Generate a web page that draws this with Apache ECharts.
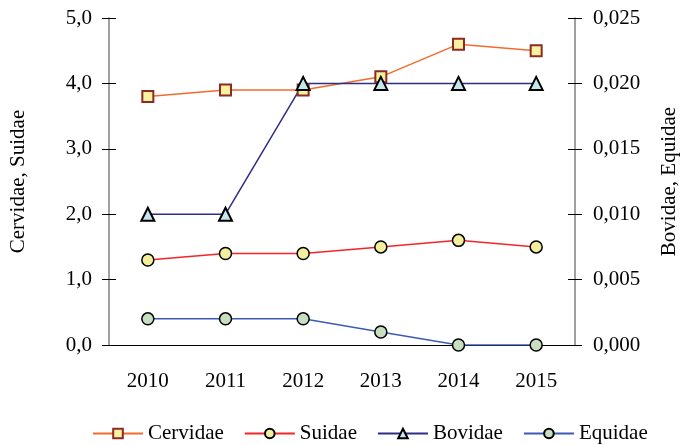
<!DOCTYPE html>
<html>
<head>
<meta charset="utf-8">
<script src="https://cdn.jsdelivr.net/npm/echarts@6/dist/echarts.min.js"></script>
<style>
  html, body { margin: 0; padding: 0; background: #fff; }
  #main { width: 690px; height: 445px; }
</style>
</head>
<body>
<div id="main"></div>
<script>
// data
const years = ['2010', '2011', '2012', '2013', '2014', '2015']
const cervidae = [3.8, 3.9, 3.9, 4.1, 4.6, 4.5]
const suidae = [1.3, 1.4, 1.4, 1.5, 1.6, 1.5]
const bovidae = [0.010, 0.010, 0.020, 0.020, 0.020, 0.020]
const equidae = [0.002, 0.002, 0.002, 0.001, 0.000, 0.000]

const font = 'Liberation Serif'
const fs = 21
const comma = (v, d) => v.toFixed(d).replace('.', ',')

const chart = echarts.init(document.getElementById('main'))

// extra axes only draw the inner half of the crossing ticks
const innerTicks = (pos, min, max, interval) => ({
  type: 'value', position: pos, min, max, interval,
  splitLine: { show: false },
  axisLine: { show: false },
  axisLabel: { show: false },
  axisTick: { show: true, inside: true, length: 7, lineStyle: { color: '#000' } }
})

chart.setOption({
  animation: false,
  grid: { left: 107, right: 115, top: 18, bottom: 100 },
  textStyle: { fontFamily: font },
  xAxis: {
    type: 'category',
    data: years,
    boundaryGap: true,
    axisLine: { lineStyle: { color: '#000', width: 1 } },
    axisTick: { length: 8, lineStyle: { color: '#000' } },
    axisLabel: { color: '#000', fontSize: fs, fontFamily: font, margin: 26 }
  },
  yAxis: [
    {
      type: 'value', position: 'left', min: 0, max: 5, interval: 1,
      name: 'Cervidae, Suidae',
      nameLocation: 'middle', nameRotate: 90, nameGap: 80,
      nameTextStyle: { color: '#000', fontSize: fs, fontFamily: font },
      splitLine: { show: false },
      axisLine: { show: true, lineStyle: { color: '#808080', width: 1.5 } },
      axisTick: { show: true, length: 7, lineStyle: { color: '#000' } },
      axisLabel: { color: '#000', fontSize: fs, fontFamily: font, margin: 17,
        formatter: v => comma(v, 1) }
    },
    {
      type: 'value', position: 'right', min: 0, max: 0.025, interval: 0.005,
      name: 'Bovidae, Equidae',
      nameLocation: 'middle', nameRotate: 90, nameGap: 84,
      nameTextStyle: { color: '#000', fontSize: fs, fontFamily: font },
      splitLine: { show: false },
      axisLine: { show: true, lineStyle: { color: '#808080', width: 1.5 } },
      axisTick: { show: true, length: 7, lineStyle: { color: '#000' } },
      axisLabel: { color: '#000', fontSize: fs, fontFamily: font, margin: 18,
        formatter: v => comma(v, 3) }
    },
    innerTicks('left', 0, 5, 1),
    innerTicks('right', 0, 0.025, 0.005)
  ],
  legend: {
    bottom: 1,
    left: 92,
    padding: 0,
    itemWidth: 50,
    itemHeight: 12,
    itemGap: 20,
    textStyle: { color: '#000', fontSize: fs, fontFamily: font }
  },
  series: [
    {
      name: 'Cervidae', type: 'line', yAxisIndex: 0, data: cervidae,
      symbol: 'rect', symbolSize: 11,
      lineStyle: { color: '#f26b2e', width: 1.5 },
      itemStyle: { color: '#f6f2a0', borderColor: '#8e2a22', borderWidth: 2 }
    },
    {
      name: 'Suidae', type: 'line', yAxisIndex: 0, data: suidae,
      symbol: 'circle', symbolSize: 12,
      lineStyle: { color: '#f5242a', width: 1.5 },
      itemStyle: { color: '#f3ef9c', borderColor: '#000', borderWidth: 1.5 }
    },
    {
      name: 'Bovidae', type: 'line', yAxisIndex: 1, data: bovidae,
      symbol: 'triangle', symbolSize: 13,
      lineStyle: { color: '#2e2e86', width: 1.5 },
      itemStyle: { color: '#c6e6ee', borderColor: '#000', borderWidth: 2 }
    },
    {
      name: 'Equidae', type: 'line', yAxisIndex: 1, data: equidae,
      symbol: 'circle', symbolSize: 12,
      lineStyle: { color: '#3c5bb4', width: 1.5 },
      itemStyle: { color: '#c7dfc0', borderColor: '#000', borderWidth: 1.5 }
    }
  ]
})
</script>
</body>
</html>
